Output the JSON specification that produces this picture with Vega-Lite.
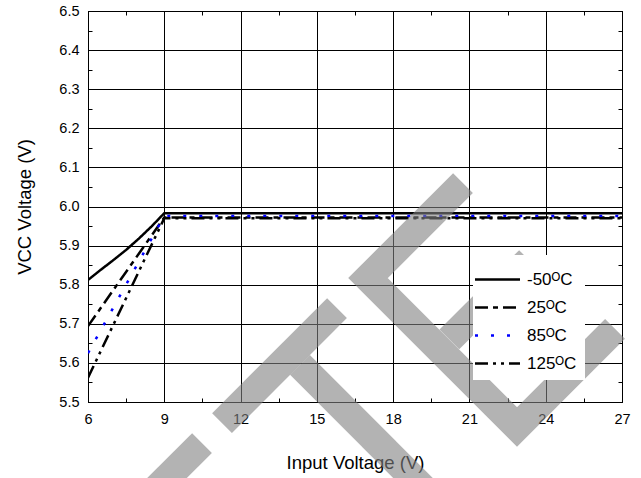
{
  "$schema": "https://vega.github.io/schema/vega-lite/v6.json",
  "width": 534,
  "height": 391,
  "autosize": {"type": "none"},
  "padding": {"left": 88, "top": 11, "right": 19, "bottom": 76},
  "background": "white",
  "config": {
    "font": "Liberation Sans",
    "view": {"stroke": "#000", "strokeWidth": 1}
  },
  "datasets": {
    "series": [
      {"t": "-50ᴼC", "v": 6, "vcc": 5.812},
      {"t": "-50ᴼC", "v": 6.5, "vcc": 5.838},
      {"t": "-50ᴼC", "v": 7, "vcc": 5.863},
      {"t": "-50ᴼC", "v": 7.5, "vcc": 5.889},
      {"t": "-50ᴼC", "v": 8, "vcc": 5.918},
      {"t": "-50ᴼC", "v": 8.5, "vcc": 5.949},
      {"t": "-50ᴼC", "v": 9, "vcc": 5.983},
      {"t": "-50ᴼC", "v": 27, "vcc": 5.983},
      {"t": "25ᴼC", "v": 6, "vcc": 5.694},
      {"t": "25ᴼC", "v": 9, "vcc": 5.972},
      {"t": "25ᴼC", "v": 27, "vcc": 5.972},
      {"t": "85ᴼC", "v": 6, "vcc": 5.625},
      {"t": "85ᴼC", "v": 9, "vcc": 5.976},
      {"t": "85ᴼC", "v": 27, "vcc": 5.976},
      {"t": "125ᴼC", "v": 6, "vcc": 5.562},
      {"t": "125ᴼC", "v": 9, "vcc": 5.970},
      {"t": "125ᴼC", "v": 27, "vcc": 5.970}
    ],
    "watermark": [
      {"part": "A", "o": 1, "v": 8.635, "vcc": 5.275},
      {"part": "A", "o": 2, "v": 10.483, "vcc": 5.395},
      {"part": "B", "o": 1, "v": 11.270, "vcc": 5.446},
      {"part": "B", "o": 2, "v": 15.792, "vcc": 5.740},
      {"part": "C", "o": 1, "v": 14.337, "vcc": 5.595},
      {"part": "C", "o": 2, "v": 19.449, "vcc": 5.262},
      {"part": "E", "o": 1, "v": 20.747, "vcc": 6.060},
      {"part": "E", "o": 2, "v": 17.011, "vcc": 5.817},
      {"part": "E", "o": 3, "v": 22.871, "vcc": 5.436},
      {"part": "E", "o": 4, "v": 26.725, "vcc": 5.687},
      {"part": "M", "o": 1, "v": 20.212, "vcc": 5.660},
      {"part": "M", "o": 2, "v": 23.343, "vcc": 5.863}
    ]
  },
  "layer": [
    {
      "data": {"name": "series"},
      "mark": {"type": "line", "strokeWidth": 2.5, "clip": true},
      "encoding": {
        "x": {
          "field": "v", "type": "quantitative",
          "scale": {"domain": [6, 27], "nice": false, "zero": false},
          "axis": {
            "orient": "bottom",
            "title": "Input Voltage (V)",
            "values": [6, 7.5, 9, 10.5, 12, 13.5, 15, 16.5, 18, 19.5, 21, 22.5, 24, 25.5, 27],
            "labelExpr": "datum.value % 3 == 0 ? datum.label : ''",
            "grid": true,
            "gridColor": "#000",
            "gridWidth": 1,
            "gridOpacity": {"condition": {"test": "datum.value % 3 == 0", "value": 1}, "value": 0},
            "tickSize": -4,
            "tickColor": "#000",
            "domainColor": "#000",
            "labelFontSize": 14.5,
            "labelColor": "#000",
            "labelPadding": 14,
            "labelFlush": false,
            "labelOverlap": false,
            "titleFontSize": 18.5,
            "titleFontWeight": "normal",
            "titleColor": "#000",
            "titlePadding": 28,
            "zindex": 0
          }
        },
        "y": {
          "field": "vcc", "type": "quantitative",
          "scale": {"domain": [5.5, 6.5], "nice": false, "zero": false},
          "axis": {
            "orient": "left",
            "title": "VCC Voltage (V)",
            "values": [5.5, 5.55, 5.6, 5.65, 5.7, 5.75, 5.8, 5.85, 5.9, 5.95, 6.0, 6.05, 6.1, 6.15, 6.2, 6.25, 6.3, 6.35, 6.4, 6.45, 6.5],
            "labelExpr": "abs(datum.value*10 - round(datum.value*10)) < 0.01 ? format(datum.value, '.1f') : ''",
            "grid": true,
            "gridColor": "#000",
            "gridWidth": 1,
            "gridOpacity": {"condition": {"test": "abs(datum.value*10 - round(datum.value*10)) < 0.01", "value": 1}, "value": 0},
            "tickSize": -4,
            "tickColor": "#000",
            "domainColor": "#000",
            "labelFontSize": 14.5,
            "labelColor": "#000",
            "labelPadding": 13,
            "labelFlush": false,
            "labelOverlap": false,
            "titleFontSize": 18.5,
            "titleFontWeight": "normal",
            "titleColor": "#000",
            "titlePadding": 24,
            "zindex": 0
          }
        },
        "color": {
          "field": "t", "type": "nominal",
          "scale": {"domain": ["-50ᴼC", "25ᴼC", "85ᴼC", "125ᴼC"], "range": ["#000000", "#000000", "#0000ff", "#000000"]},
          "legend": {
            "orient": "none", "legendX": 385, "legendY": 244,
            "title": null, "fillColor": "white", "padding": 8,
            "symbolType": "M-1.5,0H1.5", "symbolSize": 900, "symbolStrokeWidth": 2.5,
            "labelFontSize": 17, "labelColor": "#000", "rowPadding": 3, "labelOffset": 13,
            "zindex": 0
          }
        },
        "strokeDash": {
          "field": "t", "type": "nominal",
          "scale": {"domain": ["-50ᴼC", "25ᴼC", "85ᴼC", "125ᴼC"], "range": [[1, 0], [13, 5, 5, 5], [3, 13], [13, 5, 3, 5, 3, 5]]},
          "legend": {
            "orient": "none", "legendX": 385, "legendY": 244,
            "title": null, "fillColor": "white", "padding": 8,
            "symbolType": "M-1.5,0H1.5", "symbolSize": 900, "symbolStrokeWidth": 2.5,
            "labelFontSize": 17, "labelColor": "#000", "rowPadding": 3, "labelOffset": 13,
            "zindex": 0
          }
        },
        "order": {"field": "v"}
      }
    },
    {
      "data": {"name": "watermark"},
      "mark": {"type": "line", "color": "#808080", "opacity": 0.6, "strokeWidth": 28, "strokeCap": "butt", "strokeJoin": "miter", "zindex": 2},
      "encoding": {
        "x": {
          "field": "v", "type": "quantitative",
          "scale": {"domain": [6, 27], "nice": false, "zero": false},
          "axis": {
            "orient": "top", "title": null, "labels": false, "grid": false,
            "values": [7.5, 10.5, 13.5, 16.5, 19.5, 22.5, 25.5],
            "tickSize": -4, "tickColor": "#000", "domainColor": "#000", "zindex": 0
          }
        },
        "y": {
          "field": "vcc", "type": "quantitative",
          "scale": {"domain": [5.5, 6.5], "nice": false, "zero": false},
          "axis": {
            "orient": "right", "title": null, "labels": false, "grid": false,
            "values": [5.55, 5.65, 5.75, 5.85, 5.95, 6.05, 6.15, 6.25, 6.35, 6.45],
            "tickSize": -4, "tickColor": "#000", "domainColor": "#000", "zindex": 0
          }
        },
        "detail": {"field": "part", "type": "nominal"},
        "order": {"field": "o", "type": "quantitative"}
      }
    }
  ],
  "resolve": {"axis": {"x": "independent", "y": "independent"}}
}
